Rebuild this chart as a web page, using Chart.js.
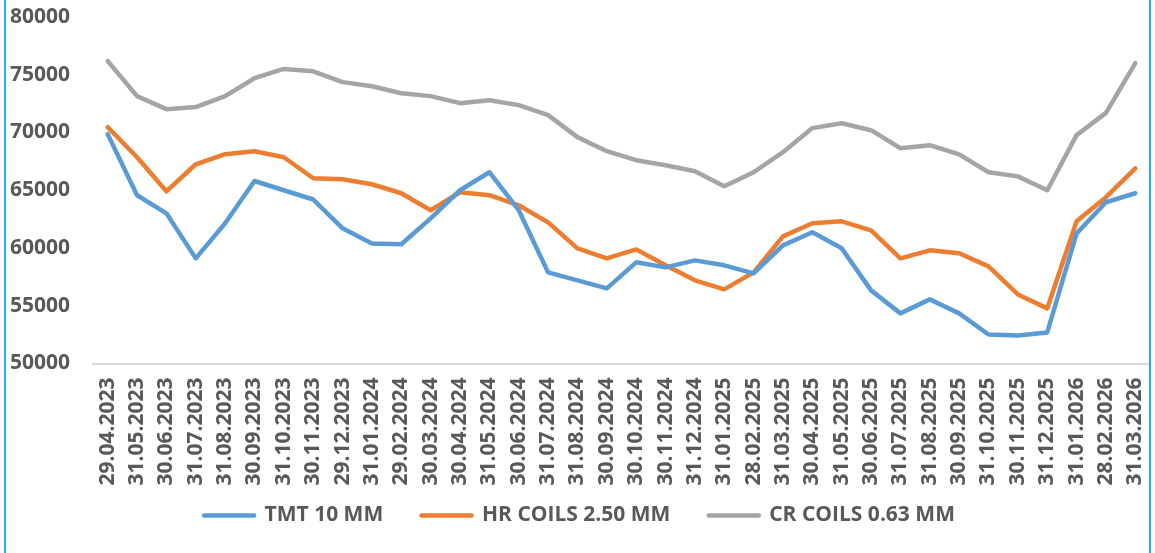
<!DOCTYPE html>
<html>
<head>
<meta charset="utf-8">
<script src="https://cdn.jsdelivr.net/npm/chart.js@4.4.1/dist/chart.umd.min.js"></script>
<style>
  html, body { margin: 0; padding: 0; background: #fff; }
  #wrap { position: relative; width: 1155px; height: 553px; }
  .edge { position: absolute; top: 0; width: 2px; height: 553px; background: #1cb4ee; }
</style>
</head>
<body>
<div id="wrap">
  <canvas id="priceChart" width="1155" height="553"></canvas>
  <div class="edge" style="left:4px"></div>
  <div class="edge" style="left:1149px"></div>
</div>
<script>
const dates = [
  '29.04.2023', '31.05.2023', '30.06.2023', '31.07.2023', '31.08.2023', '30.09.2023',
  '31.10.2023', '30.11.2023', '29.12.2023', '31.01.2024', '29.02.2024', '30.03.2024',
  '30.04.2024', '31.05.2024', '30.06.2024', '31.07.2024', '31.08.2024', '30.09.2024',
  '30.10.2024', '30.11.2024', '31.12.2024', '31.01.2025', '28.02.2025', '31.03.2025',
  '30.04.2025', '31.05.2025', '30.06.2025', '31.07.2025', '31.08.2025', '30.09.2025',
  '31.10.2025', '30.11.2025', '31.12.2025', '31.01.2026', '28.02.2026', '31.03.2026'
];

const tmt10 = [
  69860, 64570, 63000, 59100, 62140, 65800, 65000, 64200, 61700, 60400, 60320, 62570,
  65000, 66560, 63270, 57890, 57200, 56500, 58760, 58320, 58930, 58500, 57800, 60230,
  61360, 59970, 56330, 54340, 55550, 54340, 52510, 52430, 52690, 61270, 63960, 64740
];

const hrCoils = [
  70460, 67860, 64910, 67250, 68120, 68380, 67860, 66040, 65950, 65520, 64740, 63270,
  64830, 64570, 63700, 62220, 59970, 59100, 59880, 58500, 57200, 56420, 57890, 61010,
  62140, 62310, 61530, 59100, 59800, 59540, 58410, 55980, 54770, 62310, 64400, 66900
];

const crCoils = [
  76190, 73150, 72020, 72200, 73150, 74700, 75500, 75300, 74360, 74000, 73400, 73150,
  72540, 72800, 72370, 71500, 69600, 68380, 67600, 67170, 66650, 65350, 66560, 68300,
  70380, 70800, 70200, 68640, 68900, 68100, 66560, 66200, 65000, 69770, 71700, 76000
];

const seriesNames = ['TMT 10 MM', 'HR COILS 2.50 MM', 'CR COILS 0.63 MM'];
const seriesColors = ['#5b9bd5', '#ed7d31', '#a5a5a5'];
const yTicks = [50000, 55000, 60000, 65000, 70000, 75000, 80000];

const textColor = '#595959';
const boldFont = { family: "'Open Sans', sans-serif", size: 21, weight: 'bold' };
// extra room after each legend entry (Excel spaces them wider than Chart.js does)
const legendGaps = ['    ', '    ', ''];

function makeDataset(label, values, color) {
  return {
    label: label,
    data: values,
    borderColor: color,
    backgroundColor: color,
    borderWidth: 4.5,
    borderJoinStyle: 'round',
    borderCapStyle: 'round',
    pointRadius: 0,
    pointHoverRadius: 0,
    tension: 0,
    fill: false
  };
}

function drawChart() {
  const ctx = document.getElementById('priceChart').getContext('2d');

  new Chart(ctx, {
    type: 'line',
    data: {
      labels: dates,
      datasets: [
        makeDataset(seriesNames[0], tmt10, seriesColors[0]),
        makeDataset(seriesNames[1], hrCoils, seriesColors[1]),
        makeDataset(seriesNames[2], crCoils, seriesColors[2])
      ]
    },
    options: {
      responsive: false,
      animation: false,
      devicePixelRatio: 1,
      layout: {
        padding: { top: 17, right: 5, bottom: 17, left: 9 }
      },
      plugins: {
        tooltip: { enabled: false },
        title: { display: false },
        legend: {
          position: 'bottom',
          labels: {
            color: textColor,
            font: boldFont,
            padding: 16.5,
            usePointStyle: true,
            pointStyleWidth: 50,
            generateLabels: function(chart) {
              return chart.data.datasets.map(function(ds, i) {
                return {
                  text: ds.label + legendGaps[i],
                  fillStyle: ds.borderColor,
                  strokeStyle: ds.borderColor,
                  lineWidth: 4.5,
                  lineCap: 'round',
                  pointStyle: 'line',
                  fontColor: textColor,
                  hidden: false,
                  datasetIndex: i
                };
              });
            }
          }
        }
      },
      scales: {
        x: {
          offset: true,
          grid: { display: false, drawTicks: false },
          border: { display: true, color: '#d9d9d9', width: 2 },
          ticks: {
            color: textColor,
            font: boldFont,
            autoSkip: false,
            minRotation: 90,
            maxRotation: 90,
            padding: 14
          },
          afterFit: function(scale) {
            scale.height = 125;
            scale.paddingLeft = 0;
            scale.paddingRight = 0;
          }
        },
        y: {
          min: yTicks[0],
          max: yTicks[yTicks.length - 1],
          grid: { display: false, drawTicks: false },
          border: { display: false },
          afterBuildTicks: function(scale) {
            scale.ticks = yTicks.map(function(v) { return { value: v }; });
          },
          ticks: {
            color: textColor,
            font: boldFont,
            padding: 23,
            callback: function(v) { return String(v); }
          },
          afterFit: function(scale) {
            // 9px layout padding + 84 = plot area starting at x=93
            scale.width = 84;
            scale.paddingTop = 0;
            scale.paddingBottom = 0;
          }
        }
      }
    }
  });
}

document.fonts.load("bold 21px 'Open Sans'").then(drawChart, drawChart);
</script>
</body>
</html>
